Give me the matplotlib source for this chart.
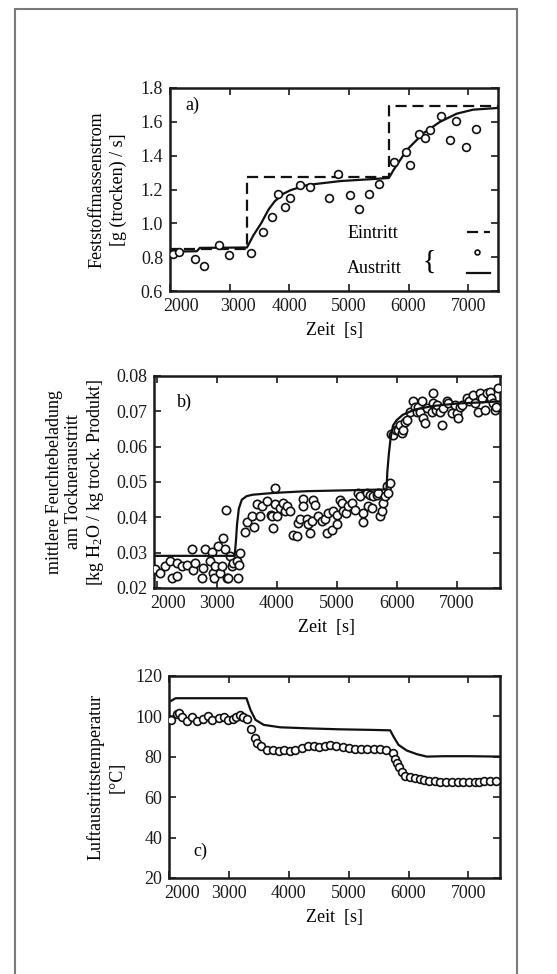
import matplotlib
matplotlib.use("Agg")
import matplotlib.pyplot as plt
from matplotlib.patches import Rectangle
from matplotlib.transforms import ScaledTranslation
from matplotlib.lines import Line2D

plt.rcParams['font.family'] = ['Liberation Serif', 'DejaVu Serif']
plt.rcParams['mathtext.fontset'] = 'custom'
plt.rcParams['mathtext.rm'] = 'Liberation Serif'
plt.rcParams['mathtext.it'] = 'Liberation Serif:italic'

# ---------------- data: panel a ----------------
a_in_x = [1950, 3290, 5670, 7600]
a_in_y = [0.85, 1.275, 1.695, 1.695]
a_out_x = [2000, 2450, 2500, 3290, 3400, 3528, 3650, 3750, 3900, 4028, 4306, 4861,
           5417, 5670, 5750, 5972, 6250, 6528, 6806, 7083, 7500]
a_out_y = [0.833, 0.835, 0.855, 0.857, 0.93, 1.0, 1.08, 1.128, 1.175, 1.197, 1.227, 1.25,
           1.262, 1.268, 1.316, 1.434, 1.533, 1.60, 1.648, 1.672, 1.682]
a_meas_x = [2050, 2150, 2417, 2567, 2817, 2983, 3350, 3567, 3717, 3806, 3928, 4017, 4183,
            4344, 4667, 4822, 5017, 5167, 5344, 5506, 5750, 5950, 6028, 6178, 6278, 6367,
            6539, 6694, 6794, 6961, 7128]
a_meas_y = [0.82, 0.83, 0.792, 0.748, 0.873, 0.812, 0.827, 0.946, 1.035, 1.171, 1.098, 1.150,
            1.227, 1.213, 1.148, 1.290, 1.169, 1.082, 1.173, 1.233, 1.363, 1.420, 1.343,
            1.529, 1.505, 1.551, 1.636, 1.490, 1.602, 1.452, 1.555]

# ---------------- data: panel b ----------------
b_sim_x = [1950, 3300, 3320, 3340, 3370, 3420, 3500, 3600, 3944, 4500, 5056, 5830, 5845,
           5870, 5900, 5940, 6000, 6100, 6300, 6600, 7000, 7720]
b_sim_y = [0.0291, 0.0291, 0.033, 0.038, 0.0425, 0.045, 0.0460, 0.0464, 0.0469, 0.0474,
           0.0476, 0.0479, 0.053, 0.058, 0.0625, 0.066, 0.0675, 0.069, 0.0705, 0.0715,
           0.0722, 0.0728]
b_meas_x = [1972, 2056, 2139, 2222, 2250, 2333, 2344, 2417, 2500, 2583, 2611, 2639, 2750,
            2778, 2806, 2889, 2917, 2944, 2950, 2972, 3028, 3056, 3083, 3111, 3139, 3156,
            3178, 3194, 3222, 3250, 3278, 3333, 3361, 3375, 3389,
            3472, 3511, 3583, 3622, 3667, 3722, 3750, 3833, 3900, 3917, 3944, 3967, 3972,
            4011, 4056, 4111, 4139, 4167, 4222, 4278, 4333, 4361, 4389, 4433, 4444, 4500,
            4528, 4556, 4583, 4611, 4639, 4694, 4750, 4806, 4833, 4861, 4917, 4944, 5000,
            5011, 5056, 5083, 5111, 5156, 5194, 5250, 5306, 5361, 5389, 5433, 5444, 5500,
            5528, 5556, 5583, 5611, 5667, 5694, 5722, 5750, 5778, 5806, 5833, 5861, 5889,
            5900, 5944, 5989, 6028, 6056, 6083, 6111, 6139, 6167, 6222, 6278, 6300, 6333,
            6361, 6389, 6417, 6444, 6472, 6500, 6583, 6600, 6611, 6650, 6667, 6722, 6750,
            6778, 6833, 6861, 6917, 6972, 7000, 7028, 7050, 7083, 7167, 7200, 7278, 7306,
            7361, 7389, 7420, 7472, 7500, 7556, 7580, 7611, 7639, 7650, 7694]
b_meas_y = [0.0253, 0.0243, 0.0262, 0.0276, 0.0229, 0.0233, 0.0271, 0.0262, 0.0266, 0.0309,
            0.0252, 0.0272, 0.0229, 0.0256, 0.0309, 0.0276, 0.0302, 0.0243, 0.0229, 0.0262,
            0.0318, 0.0243, 0.0262, 0.0342, 0.0309, 0.0422, 0.0229, 0.0229, 0.0290, 0.0262,
            0.0271, 0.0276, 0.0229, 0.0266, 0.0299,
            0.0358, 0.0386, 0.0403, 0.0373, 0.0439, 0.0403, 0.0431, 0.0445, 0.0408, 0.0403,
            0.0370, 0.0483, 0.0438, 0.0403, 0.0427, 0.0441, 0.0417, 0.0431, 0.0417, 0.0351,
            0.0347, 0.0384, 0.0394, 0.0452, 0.0431, 0.0394, 0.0380, 0.0356, 0.0389, 0.0450,
            0.0436, 0.0403, 0.0389, 0.0394, 0.0356, 0.0412, 0.0365, 0.0417, 0.0408, 0.0380,
            0.0450, 0.0441, 0.0417, 0.0412, 0.0431, 0.0441, 0.0422, 0.0469, 0.0459, 0.0412,
            0.0386, 0.0469, 0.0431, 0.0464, 0.0427, 0.0459, 0.0464, 0.0469, 0.0403, 0.0417,
            0.0441, 0.0459, 0.0488, 0.0469, 0.0497,
            0.0635, 0.0633, 0.0646, 0.0648, 0.0662, 0.0640, 0.0648, 0.0671, 0.0676, 0.0699,
            0.0728, 0.0713, 0.0699, 0.0713, 0.0699, 0.0728, 0.0681, 0.0666, 0.0709, 0.0699,
            0.0751, 0.0723, 0.0704, 0.0718, 0.0699, 0.0662, 0.0709, 0.0728, 0.0723, 0.0695,
            0.0718, 0.0695, 0.0681, 0.0713, 0.0718, 0.0737, 0.0728, 0.0746, 0.0723, 0.0699,
            0.0751, 0.0737, 0.0704, 0.0751, 0.0756, 0.0737, 0.0723, 0.0704, 0.0713, 0.0765]

# ---------------- data: panel c ----------------
c_sim_x = [2028, 2111, 3294, 3361, 3444, 3583, 3861, 4306, 4861, 5417, 5694, 5750, 5833,
           5972, 6139, 6306, 6600, 7000, 7530]
c_sim_y = [107.6, 109.0, 109.0, 103.2, 98.3, 95.8, 94.6, 94.1, 93.6, 93.3, 93.1, 90.0, 85.9,
           83.1, 81.3, 80.1, 80.3, 80.3, 80.1]
c_meas_x = [2039, 2128, 2167, 2222, 2306, 2389, 2472, 2567, 2656, 2711, 2833, 2917, 2989,
            3072, 3111, 3194, 3239, 3306, 3372, 3433, 3472, 3539, 3639, 3739, 3833, 3928,
            4017, 4111, 4222, 4317, 4417, 4511, 4611, 4694, 4794, 4906, 5000, 5111, 5211,
            5306, 5417, 5517, 5628, 5739, 5778, 5806, 5844, 5889, 5944, 6017, 6111, 6194,
            6267, 6350, 6444, 6528, 6628, 6733, 6833, 6917, 7017, 7111, 7183, 7261, 7361,
            7461]
c_meas_y = [98.3, 101.2, 101.9, 99.9, 97.9, 99.6, 97.9, 98.6, 100.2, 98.3, 99.1, 99.9, 98.3,
            98.9, 99.9, 100.7, 99.6, 98.7, 93.6, 89.5, 86.7, 85.4, 83.4, 83.4, 82.9, 83.4,
            82.9, 83.4, 84.3, 85.1, 85.1, 84.7, 85.1, 85.9, 85.1, 84.7, 84.3, 83.8, 84.0,
            84.1, 83.8, 83.8, 83.4, 82.1, 78.8, 76.8, 74.9, 72.7, 70.6, 70.2, 69.4, 68.9,
            68.3, 67.8, 67.8, 67.4, 67.4, 67.4, 67.4, 67.4, 67.3, 67.3, 67.3, 67.8, 67.8,
            67.8]

x_ticks = [2000, 3000, 4000, 5000, 6000, 7000]
a_yticks = [0.6, 0.8, 1.0, 1.2, 1.4, 1.6, 1.8]
b_yticks = [0.02, 0.03, 0.04, 0.05, 0.06, 0.07, 0.08]
c_yticks = [20, 40, 60, 80, 100, 120]

FS = 13
W, H = 557, 974
fig = plt.figure(figsize=(W / 100, H / 100), dpi=100)

# outer grey frame
fig.patches.append(Rectangle((15 / W, -0.02), 502 / W, (965 / H) + 0.02,
                             transform=fig.transFigure, fill=False,
                             edgecolor='#7a7a7a', lw=1.5, zorder=0))


def px_ax(l, t, r, b):
    return fig.add_axes([l / W, 1 - b / H, (r - l) / W, (b - t) / H])


def style(ax, xlim, ylim, yticks, yfmt, shifts):
    ax.set_xlim(*xlim)
    ax.set_ylim(*ylim)
    ax.set_xticks(x_ticks)
    ax.set_xticklabels([str(t) for t in x_ticks])
    ax.set_yticks(yticks)
    ax.set_yticklabels([yfmt.format(t) for t in yticks])
    ax.tick_params(direction='in', top=True, right=True, length=5, width=1.2,
                   labelsize=FS, pad=5, colors='#1a1a1a')
    for s in ax.spines.values():
        s.set_linewidth(1.8)
        s.set_color('#1a1a1a')
    ax.set_xlabel('Zeit  [s]', fontsize=FS, labelpad=5)
    labels = ax.get_xticklabels()
    for i, dx in enumerate(shifts):
        if dx:
            labels[i].set_transform(labels[i].get_transform() +
                                    ScaledTranslation(dx / 100, 0, fig.dpi_scale_trans))


circ = dict(ls='none', marker='o', mfc='white', mec='#111111', mew=1.2, zorder=3)

# ---------------- panel a ----------------
axa = px_ax(170, 88, 498, 291)
axa.plot(a_in_x, a_in_y, drawstyle='steps-post', color='#111111', lw=1.6,
         dashes=(5, 2.6))
axa.plot(a_out_x, a_out_y, color='#111111', lw=1.6)
axa.plot(a_meas_x, a_meas_y, ms=5.6, **circ)
style(axa, (2000, 7500), (0.6, 1.8), a_yticks, '{:.1f}', [11, 8, 0, 0, 0, 0])
axa.text(-0.19, 0.5, 'Feststoffmassenstrom\n[g (trocken) / s]', transform=axa.transAxes,
         rotation=90, ha='center', va='center', fontsize=FS, linespacing=1.3)
axa.text(0.046, 0.915, 'a)', transform=axa.transAxes, ha='left', va='center', fontsize=FS)
axa.text(0.54, 0.283, 'Eintritt', transform=axa.transAxes, ha='left', va='center', fontsize=FS)
axa.text(0.54, 0.11, 'Austritt', transform=axa.transAxes, ha='left', va='center', fontsize=FS)
axa.text(0.79, 0.14, '{', transform=axa.transAxes, ha='center', va='center', fontsize=20)
axa.add_line(Line2D([0.905, 0.976], [0.29, 0.29], transform=axa.transAxes,
                    color='#111111', lw=1.6, dashes=(5, 2.6)))
axa.add_line(Line2D([0.935], [0.192], transform=axa.transAxes, marker='o', ms=3.5,
                    mfc='white', mec='#111111', mew=1.2, ls='none'))
axa.add_line(Line2D([0.905, 0.976], [0.089, 0.089], transform=axa.transAxes,
                    color='#111111', lw=1.6))

# ---------------- panel b ----------------
axb = px_ax(154, 376, 500, 588)
axb.plot(b_sim_x, b_sim_y, color='#111111', lw=1.6, zorder=4)
axb.plot(b_meas_x, b_meas_y, ms=6.0, **circ)
style(axb, (1956, 7722), (0.02, 0.08), b_yticks, '{:.2f}', [11, 0, 0, 0, 0, 0])
axb.text(-0.225, 0.5, 'mittlere Feuchtebeladung\nam Tockneraustritt\n'
         '[kg H$_2$O / kg trock. Produkt]', transform=axb.transAxes,
         rotation=90, ha='center', va='center', fontsize=FS, linespacing=1.2)
axb.text(0.066, 0.877, 'b)', transform=axb.transAxes, ha='left', va='center', fontsize=FS)

# ---------------- panel c ----------------
axc = px_ax(169, 676, 500, 878)
axc.plot(c_sim_x, c_sim_y, color='#111111', lw=1.6)
axc.plot(c_meas_x, c_meas_y, ms=5.6, **circ)
style(axc, (2017, 7528), (20, 120), c_yticks, '{:d}', [13, 0, 0, 0, 0, 0])
axc.text(-0.19, 0.5, 'Luftaustrittstemperatur\n[°C]', transform=axc.transAxes,
         rotation=90, ha='center', va='center', fontsize=FS, linespacing=1.3)
axc.text(0.075, 0.13, 'c)', transform=axc.transAxes, ha='left', va='center', fontsize=FS)

fig.savefig('out.png', dpi=100)
